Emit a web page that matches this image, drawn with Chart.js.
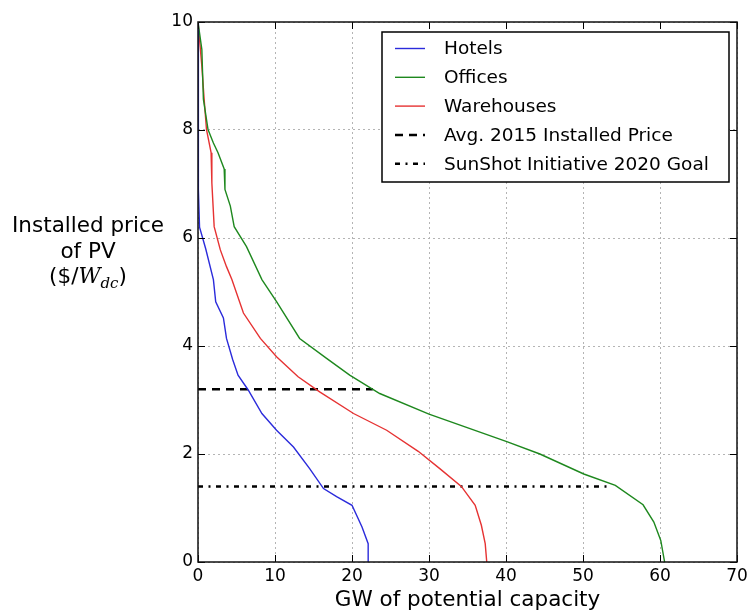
<!DOCTYPE html>
<html>
<head>
<meta charset="utf-8">
<script src="https://cdn.jsdelivr.net/npm/chart.js@4"></script>
<style>
  body { margin: 0; background: #fff; }
  canvas { display: block; }
</style>
</head>
<body>
<canvas id="grafico" width="749" height="613"></canvas>
<script>
// dados (GW, $/W)
const hotels_gw    = [0, 0, 0.1, 0.2, 1.0, 2.0, 2.3, 3.3, 3.7, 4.5, 5.2, 6.5, 8.3, 10.2, 12.4, 14.5, 16.3, 18.0, 20.0, 21.3, 22.1, 22.1];
const hotels_price = [10, 9, 6.9, 6.2, 5.8, 5.23, 4.82, 4.52, 4.14, 3.75, 3.46, 3.19, 2.75, 2.44, 2.13, 1.73, 1.36, 1.21, 1.05, 0.65, 0.34, 0];

const offices_gw    = [0, 0.5, 0.7, 1.3, 2.0, 2.6, 3.4, 3.5, 4.2, 4.7, 6.3, 8.3, 10.2, 13.2, 16.7, 19.7, 23.6, 30.0, 40.1, 44.4, 50.1, 54.2, 57.8, 59.2, 60.1, 60.6];
const offices_price = [10, 9.49, 8.57, 8.01, 7.76, 7.58, 7.28, 6.9, 6.59, 6.21, 5.84, 5.23, 4.82, 4.14, 3.77, 3.46, 3.12, 2.74, 2.23, 2.0, 1.63, 1.42, 1.06, 0.74, 0.40, 0];

const warehouses_gw    = [0, 0.5, 0.8, 1.1, 1.7, 1.8, 2.1, 2.9, 3.7, 4.4, 5.9, 8.1, 10.2, 13.0, 15.8, 20.2, 24.5, 28.6, 31.4, 34.2, 36.0, 36.8, 37.3, 37.5];
const warehouses_price = [10, 9.18, 8.57, 8.01, 7.58, 7.02, 6.21, 5.78, 5.47, 5.23, 4.61, 4.14, 3.8, 3.43, 3.15, 2.75, 2.44, 2.05, 1.73, 1.40, 1.05, 0.68, 0.34, 0];

const avg_2015_gw = [0, 22.7];
const avg_2015_price = [3.2, 3.2];
const sunshot_gw = [0, 53.3];
const sunshot_price = [1.4, 1.4];

const x_ticks = [0, 10, 20, 30, 40, 50, 60, 70];
const y_ticks = [0, 2, 4, 6, 8, 10];

const fonte = '"DejaVu Sans", sans-serif';

function pontos(xs, ys) {
  let out = [];
  for (let i = 0; i < xs.length; i++) {
    out.push({ x: xs[i], y: ys[i] });
  }
  return out;
}

function serie(label, xs, ys, cor, largura, traco) {
  return {
    label: label,
    data: pontos(xs, ys),
    showLine: true,
    borderColor: cor,
    backgroundColor: cor,
    borderWidth: largura,
    borderDash: traco,
    pointRadius: 0,
    fill: false,
    tension: 0
  };
}

// moldura, ticks para dentro, legenda e titulo do eixo y
const extras = {
  id: 'extras',
  afterDraw(chart) {
    const ctx = chart.ctx;
    const a = chart.chartArea;
    const sx = chart.scales.x, sy = chart.scales.y;
    ctx.save();

    ctx.strokeStyle = '#000';
    ctx.lineWidth = 1;
    ctx.setLineDash([]);
    const tam = 7;
    x_ticks.forEach(v => {
      const px = Math.round(sx.getPixelForValue(v)) + 0.5;
      ctx.beginPath();
      ctx.moveTo(px, a.bottom); ctx.lineTo(px, a.bottom - tam);
      ctx.moveTo(px, a.top); ctx.lineTo(px, a.top + tam);
      ctx.stroke();
    });
    y_ticks.forEach(v => {
      const py = Math.round(sy.getPixelForValue(v)) + 0.5;
      ctx.beginPath();
      ctx.moveTo(a.left, py); ctx.lineTo(a.left + tam, py);
      ctx.moveTo(a.right, py); ctx.lineTo(a.right - tam, py);
      ctx.stroke();
    });

    ctx.lineWidth = 1.5;
    ctx.strokeStyle = '#111';
    ctx.strokeRect(a.left, a.top, a.right - a.left, a.bottom - a.top);

    // legenda
    const bx = a.right - 355, by = a.top + 10, bw = 347, bh = 150;
    ctx.fillStyle = '#fff';
    ctx.fillRect(bx, by, bw, bh);
    ctx.lineWidth = 1.5;
    ctx.strokeStyle = '#000';
    ctx.strokeRect(bx, by, bw, bh);
    ctx.font = '18.5px ' + fonte;
    ctx.textBaseline = 'middle';
    ctx.textAlign = 'left';
    chart.data.datasets.forEach((ds, i) => {
      const ry = by + 16.5 + i * 28.8;
      ctx.beginPath();
      ctx.strokeStyle = ds.borderColor;
      ctx.lineWidth = ds.borderWidth;
      ctx.setLineDash(ds.borderDash || []);
      ctx.moveTo(bx + 13, ry);
      ctx.lineTo(bx + 43, ry);
      ctx.stroke();
      ctx.setLineDash([]);
      ctx.fillStyle = '#000';
      ctx.fillText(ds.label, bx + 62, ry + 1);
    });

    // titulo do eixo y
    const cx = 88;
    ctx.fillStyle = '#000';
    ctx.textAlign = 'center';
    ctx.textBaseline = 'alphabetic';
    ctx.font = '21.5px ' + fonte;
    ctx.fillText('Installed price', cx, 232);
    ctx.fillText('of PV', cx, 257.5);
    const partes = [
      { t: '($/', f: '21.5px ' + fonte, dy: 0 },
      { t: 'W', f: 'italic 21.5px "DejaVu Serif", serif', dy: 0 },
      { t: 'dc', f: 'italic 15px "DejaVu Serif", serif', dy: 5 },
      { t: ')', f: '21.5px ' + fonte, dy: 0 }
    ];
    let total = 0;
    partes.forEach(p => { ctx.font = p.f; p.w = ctx.measureText(p.t).width; total += p.w; });
    let px = cx - total / 2;
    ctx.textAlign = 'left';
    partes.forEach(p => {
      ctx.font = p.f;
      ctx.fillText(p.t, px, 283 + p.dy);
      px += p.w;
    });

    ctx.restore();
  }
};

function renderiza_grafico() {
  const ctx = document.getElementById('grafico').getContext('2d');
  new Chart(ctx, {
    type: 'scatter',
    data: {
      datasets: [
        serie('Hotels', hotels_gw, hotels_price, '#2b2bdb', 1.4, []),
        serie('Offices', offices_gw, offices_price, '#1e881e', 1.4, []),
        serie('Warehouses', warehouses_gw, warehouses_price, '#e63232', 1.4, []),
        serie('Avg. 2015 Installed Price', avg_2015_gw, avg_2015_price, '#000', 2.5, [8, 6]),
        serie('SunShot Initiative 2020 Goal', sunshot_gw, sunshot_price, '#000', 2.5, [5, 5.5, 2, 5.5])
      ]
    },
    options: {
      responsive: false,
      animation: false,
      layout: { padding: { top: 22, right: 12, left: 0, bottom: 0 } },
      plugins: { legend: { display: false }, tooltip: { enabled: false } },
      scales: {
        x: {
          type: 'linear', min: 0, max: 70,
          afterBuildTicks: s => { s.ticks = x_ticks.map(v => ({ value: v })); },
          afterFit: s => { s.height = 51; s.paddingLeft = 0; s.paddingRight = 0; },
          ticks: { color: '#000', font: { family: fonte, size: 17 }, padding: 4, maxRotation: 0 },
          grid: { color: '#b4b4b4', lineWidth: 1, drawTicks: false },
          border: { display: false, dash: [2, 3] },
          title: { display: true, text: 'GW of potential capacity', color: '#000', font: { family: fonte, size: 21.5 }, padding: { top: 0, bottom: 0 } }
        },
        y: {
          type: 'linear', min: 0, max: 10,
          afterBuildTicks: s => { s.ticks = y_ticks.map(v => ({ value: v })); },
          afterFit: s => { s.width = 198; s.paddingTop = 0; s.paddingBottom = 0; },
          ticks: { color: '#000', font: { family: fonte, size: 17 }, padding: 5 },
          grid: { color: '#b4b4b4', lineWidth: 1, drawTicks: false },
          border: { display: false, dash: [2, 3] }
        }
      }
    },
    plugins: [extras]
  });
}

renderiza_grafico();
</script>
</body>
</html>
